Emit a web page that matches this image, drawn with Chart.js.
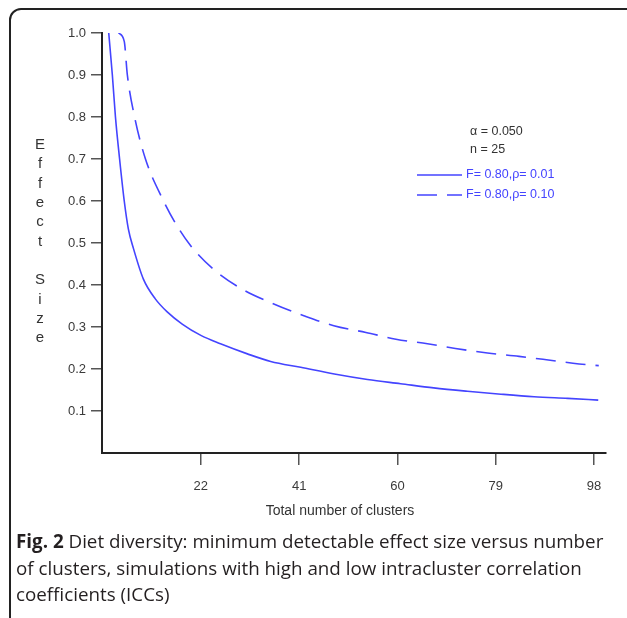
<!DOCTYPE html>
<html>
<head>
<meta charset="utf-8">
<script src="https://cdn.jsdelivr.net/npm/chart.js@4.4.0/dist/chart.umd.min.js"></script>
<style>
  body { margin: 0; background: #fff; width: 627px; height: 618px; overflow: hidden; position: relative; }
  .frame { position: absolute; left: 9px; top: 8px; width: 640px; height: 640px; border: 2px solid #222; border-radius: 12px; box-sizing: border-box; }
  .chart-box { position: absolute; left: 0; top: 0; width: 627px; height: 530px; }
  .caption { position: absolute; left: 16px; top: 528px; width: 611px; font-family: "Open Sans", sans-serif; font-size: 18.8px; line-height: 26.5px; color: #231f20; white-space: nowrap; }
  .caption b { font-weight: 700; }
</style>
</head>
<body>
<div class="frame"></div>
<div class="chart-box"><canvas id="chart" width="627" height="530"></canvas></div>
<div class="caption"><b>Fig. 2</b> Diet diversity: minimum detectable effect size versus number<br>of clusters, simulations with high and low intracluster correlation<br>coefficients (ICCs)</div>
<script>
"use strict"

// Данные
const lowIccX = [4.2, 4.9, 5.5, 6.3, 7.2, 8.0, 9.0, 10.9, 13.2, 15.5, 18.4, 22, 25.8, 31, 35.5, 41.3, 47.8, 54.2, 60.6, 67, 73.5, 80, 86.4, 92.9, 98.8]
const lowIccY = [1.0, 0.9, 0.8, 0.7, 0.6, 0.533, 0.486, 0.414, 0.367, 0.336, 0.307, 0.28, 0.26, 0.236, 0.218, 0.204, 0.188, 0.175, 0.165, 0.155, 0.147, 0.14, 0.134, 0.13, 0.126]
const highIccX = [6.1, 7.2, 7.8, 9.2, 11.3, 14.8, 17.2, 20, 24.2, 30, 36.1, 41.9, 47.7, 53.9, 59.7, 65.8, 71.2, 77.4, 83.5, 88.8, 95.1, 98.9]
const highIccY = [1.0, 0.98, 0.9, 0.8, 0.7, 0.6, 0.545, 0.494, 0.44, 0.39, 0.355, 0.327, 0.303, 0.287, 0.271, 0.26, 0.249, 0.238, 0.23, 0.222, 0.212, 0.208]
const seriesLabels = ["F= 0.80,\u03c1= 0.01", "F= 0.80,\u03c1= 0.10"]
const xTicks = [22, 41, 60, 79, 98]
const yTicks = [0.1, 0.2, 0.3, 0.4, 0.5, 0.6, 0.7, 0.8, 0.9, 1.0]
const notes = ["\u03b1 = 0.050", "n = 25"]
const yTitle = "Effect Size"
const xTitle = "Total number of clusters"

const blue = "#4444ff"
const sans = "Arial, 'Liberation Sans', sans-serif"
const axisFont = { family: sans, size: 13 }

function toPoints(xs, ys) {
  return xs.map((x, i) => ({ x: x, y: ys[i] }))
}

// Подписи, заметки и легенда поверх графика
const extras = {
  id: "extras",
  afterDraw(chart) {
    const ctx = chart.ctx
    ctx.save()
    ctx.fillStyle = "#333"
    ctx.font = `15px ${sans}`
    ctx.textAlign = "center"
    ctx.textBaseline = "middle"
    yTitle.split("").forEach((ch, i) => {
      if (ch !== " ") ctx.fillText(ch, 40, 145 + i * 19.3)
    })

    ctx.font = `14px ${sans}`
    ctx.fillText(xTitle, 340, 511)

    ctx.font = `12.5px ${sans}`
    ctx.textAlign = "left"
    notes.forEach((t, i) => ctx.fillText(t, 470, 132 + i * 18))

    chart.data.datasets.forEach((ds, i) => {
      const y = 175 + i * 20
      ctx.strokeStyle = ds.borderColor
      ctx.lineWidth = 1.6
      ctx.setLineDash(ds.borderDash || [])
      ctx.beginPath()
      ctx.moveTo(417, y)
      ctx.lineTo(462, y)
      ctx.stroke()
      ctx.setLineDash([])
      ctx.fillStyle = blue
      ctx.fillText(ds.label, 466, y)
    })
    ctx.restore()
  }
}

new Chart(document.querySelector("#chart"), {
  type: "line",
  data: {
    datasets: [{
      label: seriesLabels[0],
      data: toPoints(lowIccX, lowIccY),
      borderColor: blue,
      borderWidth: 1.6,
      pointRadius: 0,
      cubicInterpolationMode: "monotone"
    }, {
      label: seriesLabels[1],
      data: toPoints(highIccX, highIccY),
      borderColor: blue,
      borderWidth: 1.6,
      borderDash: [20, 10],
      pointRadius: 0,
      cubicInterpolationMode: "monotone"
    }]
  },
  options: {
    responsive: false,
    animation: false,
    layout: { padding: { left: 42, top: 33, right: 21, bottom: 12 } },
    scales: {
      x: {
        type: "linear",
        min: 2.9,
        max: 100.3,
        afterBuildTicks: axis => { axis.ticks = xTicks.map(v => ({ value: v })) },
        afterFit: axis => { axis.height = 65 },
        border: { color: "#222", width: 2 },
        grid: { drawOnChartArea: false, color: "#555", lineWidth: 1.5, tickLength: 12 },
        ticks: { color: "#3a3a3a", font: axisFont, padding: 14, maxRotation: 0 }
      },
      y: {
        min: 0,
        max: 1,
        afterBuildTicks: axis => { axis.ticks = yTicks.map(v => ({ value: v })) },
        afterFit: axis => { axis.width = 60 },
        border: { color: "#222", width: 2 },
        grid: { drawOnChartArea: false, color: "#555", lineWidth: 1.5, tickLength: 11 },
        ticks: { color: "#3a3a3a", font: axisFont, padding: 5, callback: v => Number(v).toFixed(1) }
      }
    },
    plugins: {
      legend: { display: false },
      tooltip: { enabled: false }
    }
  },
  plugins: [extras]
})
</script>
</body>
</html>
